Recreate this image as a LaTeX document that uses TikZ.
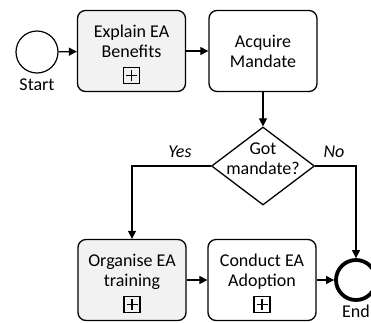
\documentclass[tikz,border=0pt]{standalone}
\usepackage{fontspec}
\setmainfont{Carlito}
\usetikzlibrary{
    arrows.meta,
    positioning,
    shapes.geometric
}
\definecolor{taskgray}{HTML}{F2F2F2}

\begin{document}
\begin{tikzpicture}[x=1pt, y=-1pt,
    font=\fontsize{18}{20}\selectfont,
    task/.style={draw, rounded corners=8pt, line width=1.3pt, minimum width=108pt, minimum height=81pt, align=center, inner sep=0pt},
    subtask/.style={task, fill=taskgray},
    marker/.style={draw, line width=1.2pt, minimum size=16pt, inner sep=0pt,
        path picture={
            \draw[line width=1.7pt] ([xshift=-5.5pt]path picture bounding box.center) -- ([xshift=5.5pt]path picture bounding box.center);
            \draw[line width=1.7pt] ([yshift=-5.5pt]path picture bounding box.center) -- ([yshift=5.5pt]path picture bounding box.center);
        }},
    event/.style={draw, circle, line width=1.2pt, minimum size=42pt, inner sep=0pt},
    endevent/.style={event, line width=3.8pt, minimum size=40pt},
    decision/.style={draw, diamond, line width=1.3pt, minimum width=103pt, minimum height=78pt, inner sep=0pt},
    flow/.style={-{Triangle[length=8pt, width=8pt]}, line width=1.2pt},
    branch/.style={font=\fontsize{18}{20}\selectfont\itshape}
    ]
            \useasboundingbox (0,0) rectangle (371,322);

            % top row
            \node[event] (start) at (37,52) {};
            \node (start-label) at (37,85) {Start};
            \node[subtask] (explain) at (131.5,51) {Explain EA\\Benefits\\\mbox{}};
            \node[marker] (explain-plus) [above=8pt of explain.south] {};
            \node[task] (acquire) at (263,51) {Acquire\\Mandate};

            % gateway
            \node[decision] (decision) at (263,166) {};
            \node[align=center] (decision-text) at (263,159) {Got\\mandate?};
            \node[branch] (yes) at (180,152) {Yes};
            \node[branch] (no) at (334,152) {No};

            % bottom row
            \node[subtask] (organise) at (132,280) {Organise EA\\training\\\mbox{}};
            \node[marker] (organise-plus) [above=8pt of organise.south] {};
            \node[task] (conduct) at (262,280) {Conduct EA\\Adoption\\\mbox{}};
            \node[marker] (conduct-plus) [above=8pt of conduct.south] {};
            \node[endevent] (end) at (356,280) {};
            \node (end-label) at (356,311) {End};

            \draw[flow] (start)--(explain);
            \draw[flow] (explain)--(acquire);
            \draw[flow] (acquire)--(decision);
            \draw[flow] (decision.west) -| (organise.north);
            \draw[flow] (decision.east) -| (end.north);
            \draw[flow] (organise)--(conduct);
            \draw[flow] (conduct)--(end);
\end{tikzpicture}
\end{document}
